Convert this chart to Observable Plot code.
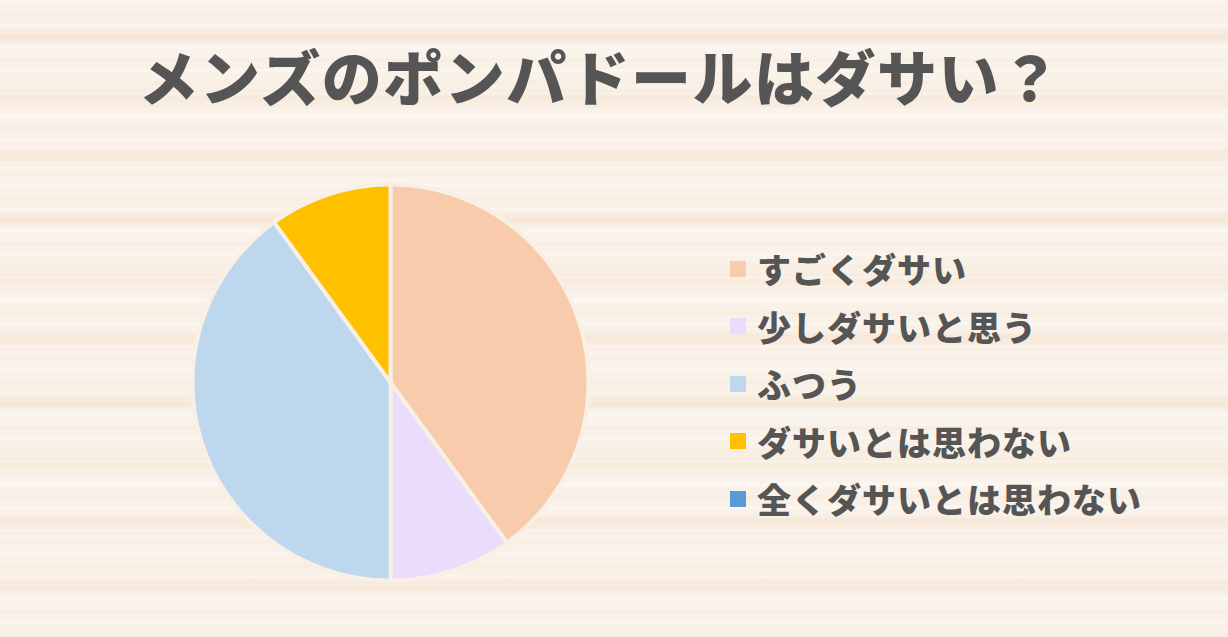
<!DOCTYPE html>
<html><head><meta charset="utf-8">
<script src="https://cdn.jsdelivr.net/npm/d3@7"></script>
<script src="https://cdn.jsdelivr.net/npm/@observablehq/plot@0.6"></script>
<style>
html,body{margin:0;padding:0;}
#wrap{position:relative;width:1228px;height:637px;overflow:hidden;
 background-color:#F8EEE3;
 background-image:
  repeating-linear-gradient(180deg, rgba(255,255,255,0.30) 0px, rgba(255,255,255,0.30) 2px, rgba(255,255,255,0) 4px, rgba(255,255,255,0) 11px, rgba(238,216,190,0.18) 13px, rgba(238,216,190,0.18) 15px, rgba(255,255,255,0) 17px, rgba(255,255,255,0) 23px),
  repeating-linear-gradient(180deg, rgba(251,244,236,0.55) 0px, rgba(251,244,236,0.55) 25px, rgba(245,229,210,0.35) 33px, rgba(245,229,210,0.35) 39px, rgba(253,248,243,0.5) 47px, rgba(253,248,243,0.5) 61px);
 font-family:"Noto Sans CJK JP","Noto Sans",sans-serif;color:#555;}
#title{position:absolute;left:0;top:35px;width:1200px;text-align:center;font-size:60px;font-weight:900;line-height:80px;letter-spacing:1.5px;}
#plot{position:absolute;left:0;top:0;}
#legend{position:absolute;left:730px;top:240px;}
.item{display:flex;align-items:center;height:57.5px;font-size:34px;font-weight:900;letter-spacing:1px;}
.sw{width:16px;height:16px;margin-right:11px;flex:none;}
</style></head>
<body><div id="wrap"><div id="title"></div><div id="plot"></div><div id="legend"></div></div>
<script>
const title = "メンズのポンパドールはダサい？";
const categories = ["すごくダサい","少しダサいと思う","ふつう","ダサいとは思わない","全くダサいとは思わない"];
const values = [40, 10, 40, 10, 0];
const colors = ["#F8CBAD","#EADCFB","#BDD7EE","#FFC000","#5B9BD5"];

document.getElementById("title").textContent = title;

const data = categories.map((c,i)=>({name:c, value:values[i]}));
const arcs = d3.pie().sort(null).value(d=>d.value)(data);
const pts = [];
arcs.forEach(a=>{
  if (a.endAngle - a.startAngle <= 0) return;
  const n = Math.max(2, Math.ceil((a.endAngle-a.startAngle)/0.01));
  pts.push({name:a.data.name, x:0, y:0});
  for (let k=0;k<=n;k++){
    const t = a.startAngle + (a.endAngle-a.startAngle)*k/n;
    pts.push({name:a.data.name, x:Math.sin(t), y:Math.cos(t)});
  }
  pts.push({name:a.data.name, x:0, y:0});
});

const cx=390, cy=382, r=198;
const chart = Plot.plot({
  width:1228, height:637, margin:0,
  style:{background:"transparent", overflow:"visible"},
  x:{domain:[-1,1], range:[cx-r, cx+r], axis:null},
  y:{domain:[-1,1], range:[cy+r, cy-r], axis:null},
  color:{domain:categories, range:colors},
  marks:[
    Plot.line(pts, {x:"x", y:"y", z:"name", fill:"name", stroke:"#F8EFE5", strokeWidth:4, strokeLinejoin:"round", curve:"linear"})
  ]
});
document.getElementById("plot").appendChild(chart);

const leg = document.getElementById("legend");
categories.forEach((c,i)=>{
  const it = document.createElement("div"); it.className="item";
  const sw = document.createElement("div"); sw.className="sw"; sw.style.background=colors[i];
  const tx = document.createElement("span"); tx.textContent=c;
  it.appendChild(sw); it.appendChild(tx); leg.appendChild(it);
});
</script></body></html>
